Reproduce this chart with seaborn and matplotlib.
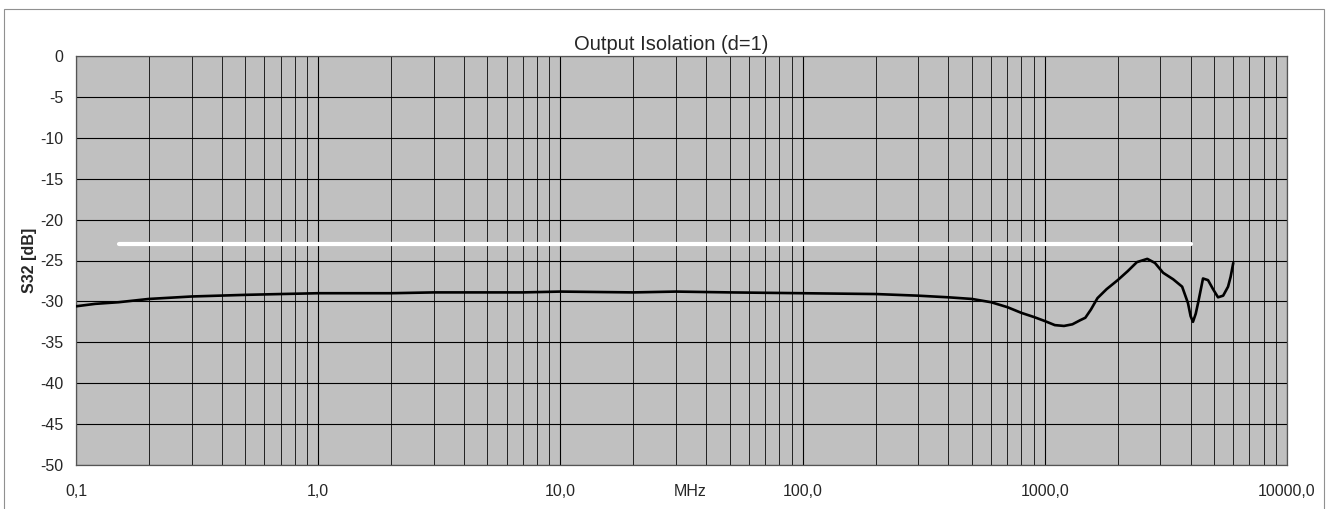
import numpy as np
import pandas as pd
import matplotlib
matplotlib.use("Agg")
import matplotlib.pyplot as plt
import matplotlib.ticker as mticker
from matplotlib.patches import Rectangle
import seaborn as sns

# ---- data ----
freq_mhz = [0.1, 0.12, 0.15, 0.2, 0.3, 0.5, 0.7, 1, 2, 3, 5, 7, 10, 20, 30, 50,
            100, 200, 300, 400, 500, 600, 700, 800, 900, 1000, 1100, 1200, 1300,
            1400, 1470, 1550, 1650, 1800, 2000, 2200, 2400, 2650, 2850, 3080,
            3390, 3690, 3900, 4000, 4090, 4200, 4300, 4500, 4720, 4950, 5190,
            5450, 5710, 5850, 6000]
s32_db = [-30.6, -30.3, -30.1, -29.7, -29.4, -29.2, -29.1, -29.0, -29.0, -28.9,
          -28.9, -28.9, -28.8, -28.9, -28.8, -28.9, -29.0, -29.1, -29.3, -29.5,
          -29.7, -30.1, -30.7, -31.4, -31.9, -32.4, -32.9, -33.0, -32.8, -32.3,
          -32.0, -31.0, -29.6, -28.5, -27.4, -26.3, -25.2, -24.8, -25.3, -26.5,
          -27.3, -28.2, -30.2, -31.8, -32.5, -31.5, -30.1, -27.2, -27.4, -28.5,
          -29.5, -29.3, -28.2, -27.0, -25.3]
limit_freq = [0.15, 4000]
limit_db = [-23, -23]

title = "Output Isolation (d=1)"
y_ticks = list(range(-50, 1, 5))
x_ticks = [0.1, 1, 10, 100, 1000, 10000]
x_tick_labels = ["0,1", "1,0", "10,0", "100,0", "1000,0", "10000,0"]

sns.set_style("white")
plt.rcParams['font.family'] = ['Liberation Sans', 'DejaVu Sans']

fig = plt.figure(figsize=(13.3, 5.09), dpi=100)
W, H = 1330, 509
ax = fig.add_axes([76 / W, 1 - 465 / H, (1287 - 76) / W, (465 - 56) / H])
ax.set_facecolor("#C0C0C0")

df = pd.DataFrame({"f": freq_mhz, "s": s32_db})
lim = pd.DataFrame({"f": limit_freq, "s": limit_db})
sns.lineplot(data=lim, x="f", y="s", ax=ax, color="white", linewidth=3.0, zorder=3)
sns.lineplot(data=df, x="f", y="s", ax=ax, color="black", linewidth=1.9, zorder=4)

ax.set_xscale("log")
ax.set_xlim(0.1, 10000)
ax.set_ylim(-50, 0)
ax.set_yticks(y_ticks)
ax.set_yticklabels([str(v) for v in y_ticks])
ax.set_xticks(x_ticks)
ax.set_xticklabels(x_tick_labels)
ax.xaxis.set_minor_locator(mticker.LogLocator(base=10, subs=np.arange(2, 10)))
ax.xaxis.set_minor_formatter(mticker.NullFormatter())

ax.grid(True, which="major", axis="both", color="black", linewidth=0.8, zorder=1)
ax.grid(True, which="minor", axis="x", color="#202020", linewidth=0.7, zorder=1)
ax.set_axisbelow(True)

ax.tick_params(axis="both", which="major", direction="out", length=5, width=0.8,
               color="#404040", labelsize=11.5, pad=4)
ax.tick_params(axis="x", which="major", pad=9)
ax.tick_params(axis="x", which="minor", length=0)

for side in ["left", "bottom", "top", "right"]:
    ax.spines[side].set_visible(True)
    ax.spines[side].set_color("#555555")
    ax.spines[side].set_linewidth(0.9)

ax.set_title(title, fontsize=14.5, x=(671 - 76) / (1287 - 76), pad=4)
ax.set_xlabel("")
ax.set_ylabel("S32 [dB]", fontsize=11.5, fontweight="bold", labelpad=2)
ax.text((690 - 76) / (1287 - 76), (465 - 492) / (465 - 56), "MHz",
        transform=ax.transAxes, ha="center", va="center", fontsize=11.5)

fig.patches.append(Rectangle((4 / W, -0.01), (1324 - 4) / W, 1 - 9 / H + 0.01,
                             transform=fig.transFigure, fill=False,
                             edgecolor="#909090", linewidth=0.8))

fig.savefig("out.png", dpi=100)
